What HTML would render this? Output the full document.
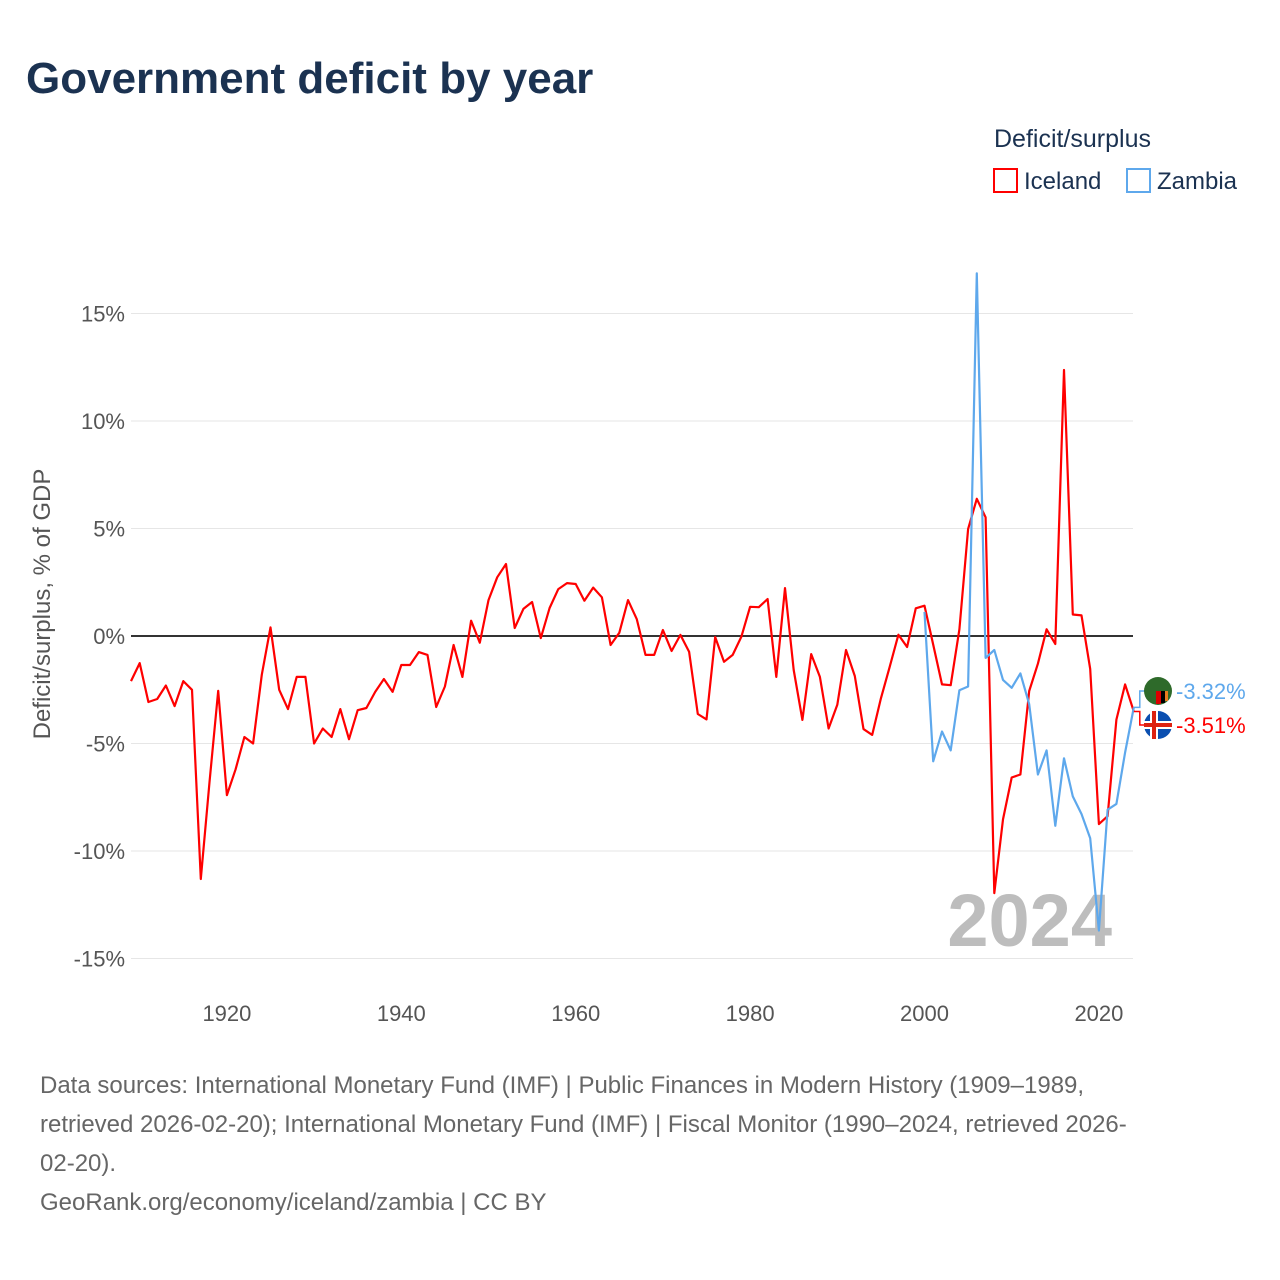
<!DOCTYPE html>
<html><head><meta charset="utf-8"><style>
body{margin:0;background:#fff;font-family:"Liberation Sans",sans-serif}
#wrap{position:relative;width:1280px;height:1280px;overflow:hidden}
</style></head><body>
<div id="wrap">
<svg id="chart" width="1280" height="1280" style="font-family:'Liberation Sans',sans-serif">
<text x="26" y="93" font-size="44" font-weight="bold" fill="#1b3251">Government deficit by year</text>
<text x="994" y="147" font-size="25" fill="#1b3251">Deficit/surplus</text>
<g><rect x="994" y="169" width="23" height="23" fill="none" stroke="#f00" stroke-width="2"/><text x="1024" y="189" font-size="24" fill="#1b3251">Iceland</text></g>
<g><rect x="1127" y="169" width="23" height="23" fill="none" stroke="#5ea8ec" stroke-width="2"/><text x="1157" y="189" font-size="24" fill="#1b3251">Zambia</text></g>
<text transform="translate(50,604) rotate(-90)" text-anchor="middle" font-size="24" fill="#555">Deficit/surplus, % of GDP</text>
<text x="1112" y="946" text-anchor="end" font-size="74" font-weight="bold" fill="#bdbdbd">2024</text>
<g id="grid"></g><g id="marks"></g>
<g id="ends"></g>
<text font-size="24" fill="#666"><tspan x="40" y="1093">Data sources: International Monetary Fund (IMF) | Public Finances in Modern History (1909–1989,</tspan><tspan x="40" y="1132">retrieved 2026-02-20); International Monetary Fund (IMF) | Fiscal Monitor (1990–2024, retrieved 2026-</tspan><tspan x="40" y="1171">02-20).</tspan></text>
<text x="40" y="1210" font-size="24" fill="#666">GeoRank.org/economy/iceland/zambia | CC BY</text>
</svg></div>
<script>
const startYear=1909;
const iceland=[-2.1,-1.26,-3.07,-2.93,-2.3,-3.26,-2.1,-2.5,-11.3,-6.8,-2.55,-7.4,-6.2,-4.7,-5.0,-1.8,0.4,-2.5,-3.4,-1.9,-1.9,-5.0,-4.3,-4.7,-3.4,-4.8,-3.45,-3.35,-2.6,-2.0,-2.6,-1.35,-1.35,-0.75,-0.88,-3.3,-2.35,-0.42,-1.9,0.71,-0.31,1.67,2.73,3.35,0.37,1.26,1.58,-0.1,1.3,2.18,2.46,2.42,1.64,2.25,1.8,-0.42,0.15,1.67,0.78,-0.88,-0.88,0.28,-0.7,0.05,-0.73,-3.63,-3.88,-0.05,-1.2,-0.88,-0.03,1.36,1.34,1.72,-1.9,2.23,-1.58,-3.9,-0.84,-1.9,-4.3,-3.2,-0.65,-1.86,-4.33,-4.6,-2.9,-1.45,0.06,-0.51,1.29,1.41,-0.4,-2.25,-2.29,0.31,4.97,6.38,5.52,-11.96,-8.53,-6.58,-6.44,-2.56,-1.29,0.31,-0.37,12.37,1.0,0.96,-1.53,-8.75,-8.38,-3.89,-2.25,-3.51];
const zambiaStart=2000;
const zambia=[1.12,-5.83,-4.44,-5.32,-2.52,-2.35,16.87,-1.02,-0.65,-2.04,-2.41,-1.74,-3.17,-6.44,-5.32,-8.83,-5.69,-7.46,-8.28,-9.41,-13.7,-8.08,-7.81,-5.42,-3.32];
const yTicks=[15,10,5,0,-5,-10,-15];
const xTicks=[1920,1940,1960,1980,2000,2020];
const X=y=>131+(y-1909)*8.72;
const Y=v=>636-v*21.5;
const NS="http://www.w3.org/2000/svg";
function mk(t,a,p){const e=document.createElementNS(NS,t);for(const k in a)e.setAttribute(k,a[k]);p.appendChild(e);return e;}
const grid=document.getElementById('grid'),marks=document.getElementById('marks'),ends=document.getElementById('ends');
yTicks.forEach(v=>{
 const l=mk('line',{x1:131,x2:1133,y1:Y(v),y2:Y(v),stroke:v===0?'#333':'#e6e6e6','stroke-width':v===0?2:1},grid);
 
 
 const t=mk('text',{x:125,y:Y(v)+8,'text-anchor':'end','font-size':22,fill:'#555'},grid);
 t.textContent=v+'%';
 
 
});
xTicks.forEach(yr=>{
 const t=mk('text',{x:X(yr),y:1021,'text-anchor':'middle','font-size':22,fill:'#555'},grid);
 t.textContent=yr;
 
 
});
function line(arr,s,col,name){
 const d=arr.map((v,i)=>(i?'L':'M')+X(s+i).toFixed(1)+','+Y(v).toFixed(1)).join('');
 const p=mk('path',{d:d,fill:'none',stroke:col,'stroke-width':2.2,'stroke-linejoin':'round'},marks);
 
 
}
line(iceland,startYear,'#f00','iceland-line');
line(zambia,zambiaStart,'#5ea8ec','zambia-line');
function endLabel(v,ly,col,name,flag){
 const x0=X(2024);
 const c=mk('path',{d:`M${x0},${Y(v)}L${x0+6},${Y(v)}L${x0+6},${ly}L${x0+12},${ly}`,fill:'none',stroke:col,'stroke-width':1.5},ends);
 
 
 const g=mk('g',{},ends);
 
 
 if(flag==='zm'){mk('circle',{cx:1158,cy:ly,r:14,fill:'#2e6a2a'},g);mk('rect',{x:1156,y:ly,width:5,height:13,fill:'#d00'},g);mk('rect',{x:1161,y:ly,width:4,height:12,fill:'#000'},g);mk('rect',{x:1165,y:ly,width:3,height:10,fill:'#e87c1e'},g);}
 else{mk('circle',{cx:1158,cy:ly,r:14,fill:'#0b4fb0'},g);mk('rect',{x:1144,y:ly-4,width:28,height:8,fill:'#fff'},g);mk('rect',{x:1150,y:ly-14,width:8,height:28,fill:'#fff'},g);mk('rect',{x:1144,y:ly-2,width:28,height:4,fill:'#d21'},g);mk('rect',{x:1152,y:ly-14,width:4,height:28,fill:'#d21'},g);}
 const t=mk('text',{x:1176,y:ly+8,'font-size':22,fill:col},ends);
 t.textContent=v.toFixed(2)+'%';
 
 
}
endLabel(zambia[zambia.length-1],691,'#5ea8ec','zambia-end','zm');
endLabel(iceland[iceland.length-1],725,'#f00','iceland-end','is');
</script>
</body></html>
